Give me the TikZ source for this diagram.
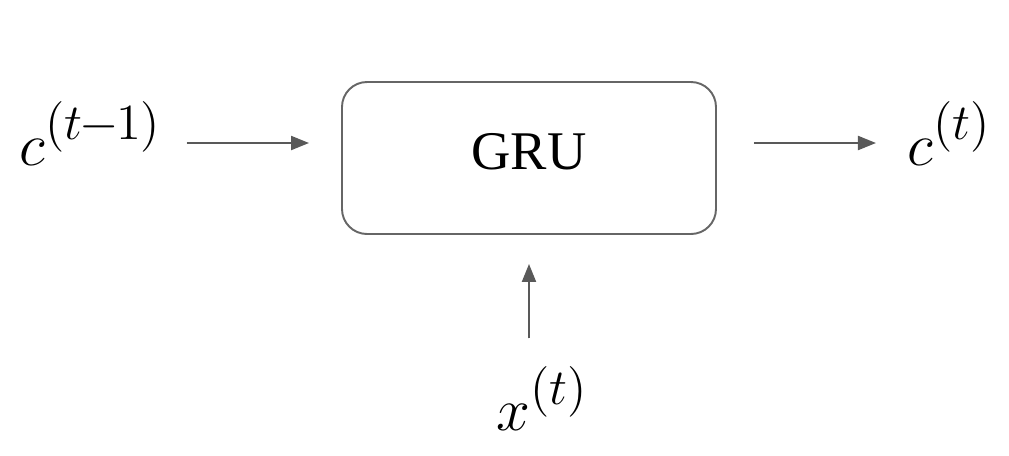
\documentclass[tikz,border=0pt]{standalone}
\usepackage{fontspec}
\setmainfont{Liberation Serif}
\usepackage{amsmath}
\usepackage{tikz}
\usetikzlibrary{arrows.meta, positioning, calc}
\DeclareMathSizes{18}{18}{14}{10}
\definecolor{linegray}{HTML}{595959}
\definecolor{boxgray}{HTML}{666666}
\tikzset{
  cellbox/.style={rectangle,rounded corners=0.25cm,draw=boxgray,line width=0.55pt,minimum width=3.74cm,minimum height=1.52cm,font=\fontsize{15.5}{18}\selectfont},
  lbl/.style={inner sep=0pt,font=\fontsize{18}{21}\selectfont},
  arr/.style={-{Triangle[length=1.8mm,width=1.4mm]},draw=linegray,fill=linegray,line width=0.6pt}
}
\begin{document}
\begin{tikzpicture}
  \useasboundingbox (0,0) rectangle (10.09,4.55);

  \node[cellbox] (gru) at (5.29,2.97) {\raisebox{1.4mm}{GRU}};
  \coordinate (lvl) at ($(gru.west)+(0,0.15)$);

  \node[lbl, anchor=base west] (cprev) at (0.19,2.90) {$\displaystyle c^{(t\mkern-1mu-\mkern-1mu1)}$};
  \node[lbl, anchor=base west] (cnext) at (9.07,2.90) {$\displaystyle c^{(t)}$};
  \node[lbl, anchor=base west] (xin)   at (4.96,0.25) {$\displaystyle x^{(t)}$};

  \draw[arr, shorten <=2.4mm, shorten >=3.2mm] (cprev.east |- lvl) -- (lvl);
  \draw[arr, shorten <=3.7mm, shorten >=3.1mm] (gru.east |- lvl) -- (cnext.west |- lvl);
  \draw[arr, shorten <=2.8mm, shorten >=2.9mm] (xin.north -| gru.south) -- (gru.south);
\end{tikzpicture}
\end{document}
